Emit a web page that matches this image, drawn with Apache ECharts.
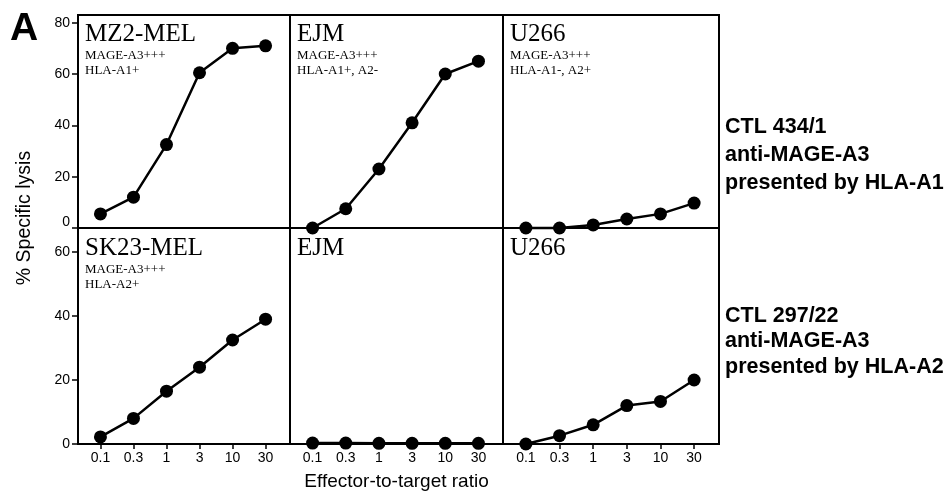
<!DOCTYPE html>
<html>
<head>
<meta charset="utf-8">
<script src="https://cdn.jsdelivr.net/npm/echarts@6/dist/echarts.min.js"></script>
<style>
  html, body { margin: 0; padding: 0; background: #fff; }
  #chart { width: 950px; height: 491px; }
</style>
</head>
<body>
<div id="chart"></div>
<script>
// E:T ratios (x categories)
var ratios = ['0.1', '0.3', '1', '3', '10', '30'];

// % specific lysis, CTL 434/1 (top row)
var mz2mel = [5.5, 12, 32.5, 60.5, 70, 71];
var ejmTop = [0, 7.5, 23, 41, 60, 65];
var u266Top = [0, 0, 1.2, 3.5, 5.5, 9.7];

// % specific lysis, CTL 297/22 (bottom row)
var sk23mel = [2.2, 8, 16.5, 24, 32.5, 39];
var ejmBottom = [0.3, 0.3, 0.2, 0.2, 0.2, 0.2];
var u266Bottom = [0, 2.6, 6, 12, 13.3, 20];

var topTicks = [0, 20, 40, 60, 80];
var bottomTicks = [0, 20, 40, 60];

var panelNames = ['MZ2-MEL', 'EJM', 'U266', 'SK23-MEL', 'EJM', 'U266'];
var panelNotes = [
    ['MAGE-A3+++', 'HLA-A1+'],
    ['MAGE-A3+++', 'HLA-A1+, A2-'],
    ['MAGE-A3+++', 'HLA-A1-, A2+'],
    ['MAGE-A3+++', 'HLA-A2+'],
    [],
    []
];
var ctlLabels = [
    ['CTL 434/1', 'anti-MAGE-A3', 'presented by HLA-A1'],
    ['CTL 297/22', 'anti-MAGE-A3', 'presented by HLA-A2']
];

var allData = [mz2mel, ejmTop, u266Top, sk23mel, ejmBottom, u266Bottom];

var SANS = '"Liberation Sans", Arial, Helvetica, sans-serif';
var SERIF = '"Liberation Serif", "Times New Roman", serif';

var colLeft = [78, 290, 503];
var colWidth = [212, 213, 216];
var rowTop = [15, 228];
var rowHeight = [213, 216];

var grids = [], xAxes = [], yAxes = [], series = [], graphics = [];

for (var k = 0; k < 6; k++) {
    var row = k < 3 ? 0 : 1;
    var col = k % 3;
    grids.push({
        left: colLeft[col],
        top: rowTop[row],
        width: colWidth[col],
        height: rowHeight[row],
        containLabel: false,
        outerBoundsMode: 'none',
        show: true,
        borderColor: '#000',
        borderWidth: 2,
        backgroundColor: 'transparent'
    });
    xAxes.push({
        gridIndex: k,
        type: 'value',
        min: -0.68,
        max: 5.74,
        axisLine: { show: false, onZero: false },
        splitLine: { show: false },
        axisTick: {
            show: row == 1,
            inside: false,
            length: 5,
            customValues: [0, 1, 2, 3, 4, 5],
            lineStyle: { color: '#000', width: 1.5 }
        },
        axisLabel: {
            show: row == 1,
            customValues: [0, 1, 2, 3, 4, 5],
            formatter: function (v) { return ratios[Math.round(v)]; },
            color: '#000',
            fontFamily: SANS,
            fontSize: 14,
            margin: 7
        },
        name: (k == 4) ? 'Effector-to-target ratio' : '',
        nameLocation: 'middle',
        nameGap: 28,
        nameTextStyle: { color: '#000', fontFamily: SANS, fontSize: 19 }
    });
    var ticks = row == 0 ? topTicks : bottomTicks;
    yAxes.push({
        gridIndex: k,
        type: 'value',
        min: 0,
        max: row == 0 ? 83 : 67.5,
        axisLine: { show: false, onZero: false },
        splitLine: { show: false },
        axisTick: {
            show: col == 0,
            inside: false,
            length: 6,
            customValues: ticks,
            lineStyle: { color: '#000', width: 1.5 }
        },
        axisLabel: {
            show: col == 0,
            customValues: ticks,
            color: '#000',
            fontFamily: SANS,
            fontSize: 14,
            margin: 8,
            // top-row zero sits just above the divider
            formatter: row == 0 ? function (v) { return v === 0 ? '{z|0}' : v; } : null,
            rich: { z: { fontFamily: SANS, fontSize: 14, color: '#000', padding: [0, 0, 12, 0] } }
        }
    });
    var pts = [];
    for (var i = 0; i < ratios.length; i++) {
        pts.push([i, allData[k][i]]);
    }
    series.push({
        type: 'line',
        xAxisIndex: k,
        yAxisIndex: k,
        data: pts,
        clip: false,
        symbol: 'circle',
        symbolSize: 13,
        itemStyle: { color: '#000' },
        lineStyle: { color: '#000', width: 2.5 },
        z: 5
    });

    // panel title and notes
    var tx = colLeft[col] + 7;
    var ty = row == 0 ? 36 : 250;
    graphics.push({
        type: 'text',
        left: tx,
        top: ty - 14,
        style: { text: panelNames[k], font: '25px ' + SERIF, fill: '#000' }
    });
    for (var j = 0; j < panelNotes[k].length; j++) {
        graphics.push({
            type: 'text',
            left: tx,
            top: ty + 13 + j * 15,
            style: { text: panelNotes[k][j], font: '13px ' + SERIF, fill: '#000' }
        });
    }
}

// right-hand labels
var ctlTop = [113, 303];
for (var r = 0; r < 2; r++) {
    graphics.push({
        type: 'text',
        left: 725,
        top: ctlTop[r],
        style: {
            text: ctlLabels[r].join('\n'),
            font: 'bold 21.5px ' + SANS,
            lineHeight: r == 0 ? 28 : 25.5,
            fill: '#000'
        }
    });
}

// y axis name
graphics.push({
    type: 'text',
    x: 25,
    y: 218,
    rotation: Math.PI / 2,
    style: {
        text: '% Specific lysis',
        font: '19.5px ' + SANS,
        fill: '#000',
        align: 'center',
        verticalAlign: 'middle'
    }
});

// panel letter
graphics.push({
    type: 'text',
    left: 10,
    top: 10,
    style: { text: 'A', font: 'bold 39px ' + SANS, fill: '#000' }
});

var myChart = echarts.init(document.getElementById('chart'));
var option = {
    animation: false,
    backgroundColor: '#fff',
    grid: grids,
    xAxis: xAxes,
    yAxis: yAxes,
    series: series,
    graphic: graphics
};
myChart.setOption(option);
</script>
</body>
</html>
